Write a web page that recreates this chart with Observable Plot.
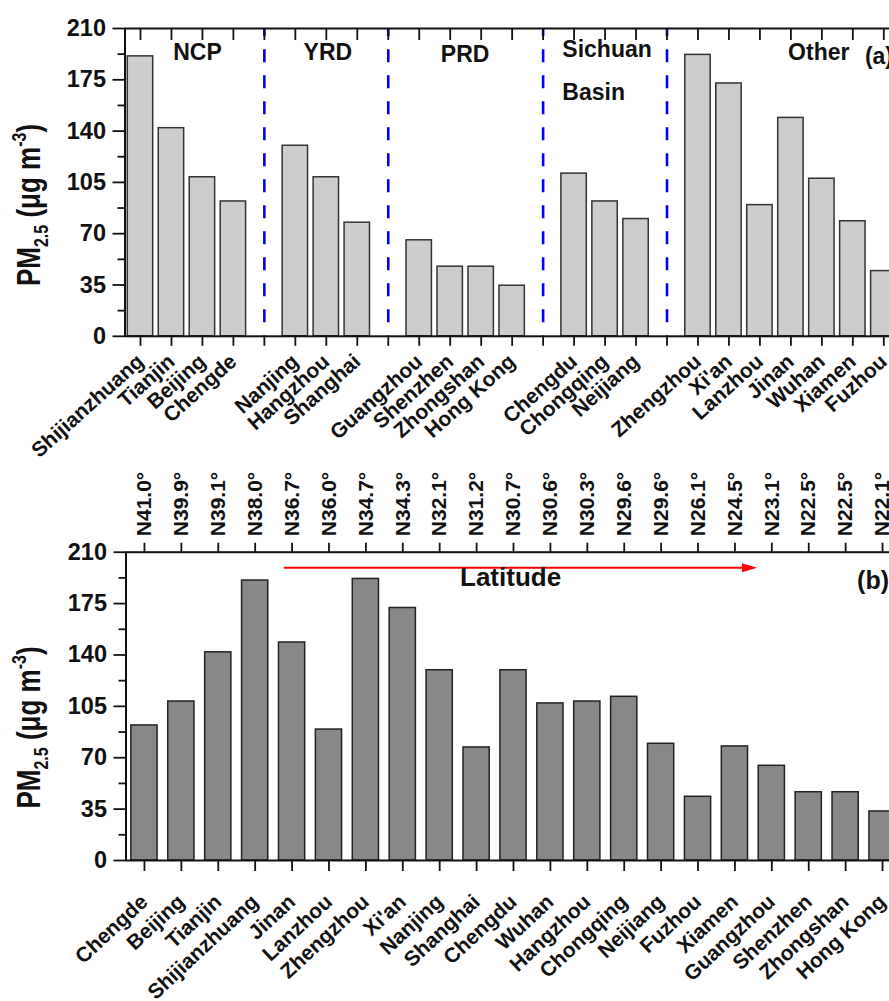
<!DOCTYPE html>
<html>
<head>
<meta charset="utf-8">
<script src="https://cdn.jsdelivr.net/npm/d3@7"></script>
<script src="https://cdn.jsdelivr.net/npm/@observablehq/plot@0.6"></script>
<style>
  html, body { margin: 0; padding: 0; background: #fff; overflow: hidden; }
  #wrap { position: relative; width: 889px; height: 1001px; overflow: hidden; background: #fff; }
  #panelA, #panelB { position: absolute; left: 0; width: 930px; }
  #panelA { top: 0; z-index: 2; }
  #panelB { top: 450px; z-index: 1; }
  #wrap svg { max-width: none !important; }
</style>
</head>
<body>
<div id="wrap">
  <div id="panelA"></div>
  <div id="panelB"></div>
</div>
<script>
// Panel (a): cities grouped by region; "" marks the slot between two regions
const citiesA = ["Shijianzhuang", "Tianjin", "Beijing", "Chengde", "",
  "Nanjing", "Hangzhou", "Shanghai", "",
  "Guangzhou", "Shenzhen", "Zhongshan", "Hong Kong", "",
  "Chengdu", "Chongqing", "Neijiang", "",
  "Zhengzhou", "Xi'an", "Lanzhou", "Jinan", "Wuhan", "Xiamen", "Fuzhou"];
const pm25A = [191, 142, 108.5, 92, null,
  130, 108.5, 77.5, null,
  65.5, 47.5, 47.5, 34.5, null,
  111, 92, 80, null,
  192, 172.5, 89.5, 149, 107.5, 78.5, 44.5];
const regionNames = ["NCP", "YRD", "PRD", "Sichuan", "Basin", "Other", "(a)"];

// Panel (b): cities ordered by latitude, north to south
const citiesB = ["Chengde", "Beijing", "Tianjin", "Shijianzhuang", "Jinan", "Lanzhou",
  "Zhengzhou", "Xi'an", "Nanjing", "Shanghai", "Chengdu", "Wuhan", "Hangzhou",
  "Chongqing", "Neijiang", "Fuzhou", "Xiamen", "Guangzhou", "Shenzhen", "Zhongshan", "Hong Kong"];
const latitudes = [41.0, 39.9, 39.1, 38.0, 36.7, 36.0, 34.7, 34.3, 32.1, 31.2, 30.7,
  30.6, 30.3, 29.6, 29.6, 26.1, 24.5, 23.1, 22.5, 22.5, 22.1];
const pm25B = [92, 108.3, 141.8, 190.7, 148.5, 89.2, 191.8, 172, 129.6, 77, 129.6,
  107, 108.3, 111.5, 79.5, 43.4, 77.7, 64.5, 46.5, 46.5, 33.4];

const yTicks = [0, 35, 70, 105, 140, 175, 210];
const yMinor = [17.5, 52.5, 87.5, 122.5, 157.5, 192.5];

const FONT = "'Liberation Sans', Arial, Helvetica, sans-serif";
const INK = "#111";
const baseStyle = {fontFamily: FONT, fontWeight: "bold", color: INK, maxWidth: "none"};

// Rotated y title with sub- and superscripts (slightly widened glyphs)
function addYTitle(svg, cx, cy) {
  const t = d3.select(svg).append("text")
    .attr("transform", `translate(${cx},${cy}) scale(1.25,1) rotate(-90)`)
    .attr("text-anchor", "middle")
    .attr("font-family", FONT)
    .attr("font-weight", "bold")
    .attr("font-size", 26)
    .attr("fill", INK);
  t.append("tspan").text("PM");
  t.append("tspan").attr("font-size", 16).attr("dy", 6).text("2.5");
  t.append("tspan").attr("dy", -6).text(" (\u03BCg m");
  t.append("tspan").attr("font-size", 16).attr("dy", -11).text("-3");
  t.append("tspan").attr("dy", 11).text(")");
}

// ---------- Panel (a) ----------
const idxA = d3.range(citiesA.length);
const barsA = idxA.filter(i => citiesA[i] !== "");
const gapsA = idxA.filter(i => citiesA[i] === "");
// label anchors (slot index, concentration) for the region names
const regionAnchorsA = [
  {x: 1.84, y: 193.3, anchor: "middle"},
  {x: 6.05, y: 193.3, anchor: "middle"},
  {x: 10.48, y: 192, anchor: "middle"},
  {x: 13.62, y: 195.7, anchor: "start"},
  {x: 13.62, y: 166, anchor: "start"},
  {x: 21.9, y: 193.3, anchor: "middle"},
  {x: 23.39, y: 191, anchor: "start"}
];
const regionLabels = regionNames.map((name, k) => ({name, ...regionAnchorsA[k]}));

const plotA = Plot.plot({
  width: 930,
  height: 470,
  marginLeft: 124.5,
  marginRight: 31.2,
  marginTop: 28,
  marginBottom: 134.2,
  x: {domain: [-0.5, 24.5]},
  y: {domain: [0, 210]},
  style: {...baseStyle, background: "none"},
  marks: [
    Plot.rectY(barsA, {x1: i => i - 0.41, x2: i => i + 0.41, y: i => pm25A[i],
      fill: "#cdcdcd", stroke: "#333", strokeWidth: 1.5}),
    Plot.ruleX(gapsA, {stroke: "#0000ff", strokeWidth: 2.6, strokeDasharray: "13,13", strokeDashoffset: 4.7}),
    Plot.axisY({ticks: yTicks, tickSize: 12, tickPadding: 7, fontSize: 23.5, label: null, stroke: INK, strokeWidth: 1.8}),
    Plot.axisY({ticks: yMinor, tickSize: 7, tickFormat: () => "", label: null, stroke: INK, strokeWidth: 1.8}),
    Plot.axisX({ticks: idxA, tickSize: 10, tickPadding: 12, tickRotate: -42, fontSize: 21,
      tickFormat: i => citiesA[i], label: null, stroke: INK, strokeWidth: 1.8}),
    Plot.axisX({anchor: "top", ticks: idxA, tickSize: -11, tickFormat: () => "", label: null, stroke: INK, strokeWidth: 1.8}),
    Plot.text(regionLabels.filter(d => d.anchor === "middle"), {x: "x", y: "y", text: "name",
      textAnchor: "middle", fontSize: 23, fill: INK}),
    Plot.text(regionLabels.filter(d => d.anchor === "start"), {x: "x", y: "y", text: "name",
      textAnchor: "start", fontSize: 23, fill: INK}),
    Plot.frame({stroke: INK, strokeWidth: 2})
  ]
});
addYTitle(plotA, 40, 205);
document.getElementById("panelA").append(plotA);

// ---------- Panel (b) ----------
const idxB = d3.range(citiesB.length);
// filled arrowhead pointing right, tip at the dot position
const arrowHead = {
  draw(context) {
    context.moveTo(0, 0);
    context.lineTo(-15, -4.5);
    context.lineTo(-15, 4.5);
    context.closePath();
  }
};
const arrowY = 199.4;

const plotB = Plot.plot({
  width: 930,
  height: 551,
  marginLeft: 125.5,
  marginRight: 29.5,
  marginTop: 101.7,
  marginBottom: 141,
  x: {domain: [-0.5, 20.5]},
  y: {domain: [0, 210]},
  style: {...baseStyle, background: "#fff"},
  marks: [
    Plot.rectY(idxB, {x1: i => i - 0.355, x2: i => i + 0.355, y: i => pm25B[i],
      fill: "#888888", stroke: "#222", strokeWidth: 1.5}),
    Plot.ruleY([arrowY], {x1: 3.79, x2: 16.3, stroke: "#ff0000", strokeWidth: 2}),
    Plot.dot([arrowY], {x: 16.6, y: d => d, symbol: arrowHead, fill: "#ff0000", stroke: "none"}),
    Plot.text(["Latitude"], {x: 9.92, y: 192.4, text: d => d, fontSize: 26, fill: INK}),
    Plot.text(["(b)"], {x: 19.31, y: 190.7, text: d => d, textAnchor: "start", fontSize: 25, fill: INK}),
    Plot.axisY({ticks: yTicks, tickSize: 12, tickPadding: 7, fontSize: 23.5, label: null, stroke: INK, strokeWidth: 1.8}),
    Plot.axisY({ticks: yMinor, tickSize: 7, tickFormat: () => "", label: null, stroke: INK, strokeWidth: 1.8}),
    Plot.axisY({anchor: "right", ticks: yTicks, tickSize: -10, tickFormat: () => "", label: null, stroke: INK, strokeWidth: 1.8}),
    Plot.axisX({anchor: "top", ticks: idxB, tickSize: 10, tickPadding: 6, tickRotate: -90, fontSize: 21,
      tickFormat: i => `N${latitudes[i].toFixed(1)}\u00B0`, label: null, stroke: INK, strokeWidth: 1.8}),
    Plot.axisX({ticks: idxB, tickSize: 11, tickPadding: 27, tickRotate: -43, fontSize: 21,
      tickFormat: i => citiesB[i], label: null, stroke: INK, strokeWidth: 1.8}),
    Plot.frame({stroke: INK, strokeWidth: 2})
  ]
});
addYTitle(plotB, 40, 277.5);
document.getElementById("panelB").append(plotB);
</script>
</body>
</html>
